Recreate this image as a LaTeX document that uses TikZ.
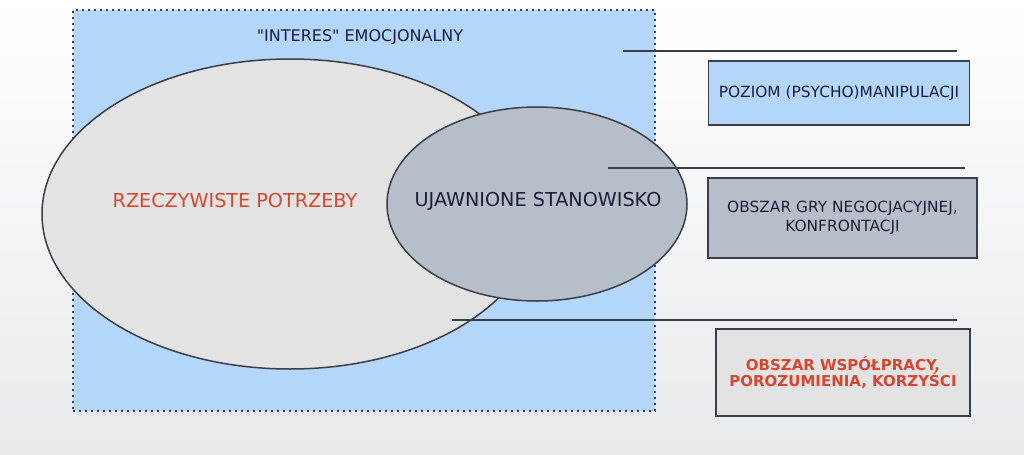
\documentclass[tikz,border=0pt]{standalone}
\usepackage{fontspec}
\setmainfont{DejaVu Sans}[Ligatures=TeXOff]
\usetikzlibrary{shapes.geometric, positioning}
\definecolor{pagebottom}{RGB}{233,234,237}
\definecolor{skyblue}{RGB}{179,214,250}
\definecolor{palegray}{RGB}{227,227,227}
\definecolor{slategray}{RGB}{182,191,201}
\definecolor{edgegray}{RGB}{58,62,70}
\definecolor{inkred}{RGB}{214,70,48}
\definecolor{navytext}{RGB}{25,30,55}

\begin{document}
\begin{tikzpicture}[x=0.5pt, y=-0.5pt,
    levelbox/.style={draw=edgegray, line width=0.8pt, inner sep=0pt, align=center, text=navytext, font=\fontsize{7.7}{9.6}\selectfont},
    levelline/.style={draw=edgegray, line width=0.8pt},
    area/.style={ellipse, draw=edgegray, line width=0.75pt, inner sep=0pt}]
    \useasboundingbox (0,0) rectangle (1024,455);
    % Page background
    \shade[top color=white, bottom color=pagebottom] (0,0) rectangle (1024,455);

    % Emotional interest field
    \node[rectangle, fill=skyblue, draw=edgegray, dotted, line width=1pt, minimum width=291pt, minimum height=200.5pt] (interes) at (364,210.5) {};
    \node[font=\fontsize{8.0}{10}\selectfont, text=navytext] (interesLabel) at (360,37) {"INTERES" EMOCJONALNY};

    % Needs and position
    \node[area, fill=palegray, minimum width=248pt, minimum height=155pt] (potrzeby) at (290,214) {};
    \node[font=\fontsize{9.6}{11}\selectfont, text=inkred] (potrzebyLabel) at (235,201) {RZECZYWISTE POTRZEBY};
    \node[area, fill=slategray, minimum width=150pt, minimum height=97pt] (stanowisko) at (537,204) {};
    \node[font=\fontsize{9.6}{11}\selectfont, text=navytext] (stanowiskoLabel) at (538,201) {UJAWNIONE STANOWISKO};

    % Level lines
    \foreach \name/\xa/\xb/\yy in {manip/623/957/51, gra/608/965/168, wspolpraca/452/957/320} {
        \coordinate (\name A) at (\xa,\yy);
        \coordinate (\name B) at (\xb,\yy);
        \draw[levelline] (\name A) -- (\name B);
    }

    % Level boxes
    \node[levelbox, fill=skyblue, minimum width=130.5pt, minimum height=32pt] (manip) at (839,93) {POZIOM (PSYCHO)MANIPULACJI};
    \node[levelbox, fill=slategray, minimum width=134.5pt, minimum height=40pt] (gra) at (842.5,218) {OBSZAR GRY NEGOCJACYJNEJ,\\KONFRONTACJI};
    \node[levelbox, fill=palegray, minimum width=127pt, minimum height=43.5pt, text=inkred, font=\fontsize{7.5}{8.2}\selectfont\bfseries] (wspolpraca) at (843,372.5) {OBSZAR WSPÓŁPRACY,\\POROZUMIENIA, KORZYŚCI};
\end{tikzpicture}
\end{document}
